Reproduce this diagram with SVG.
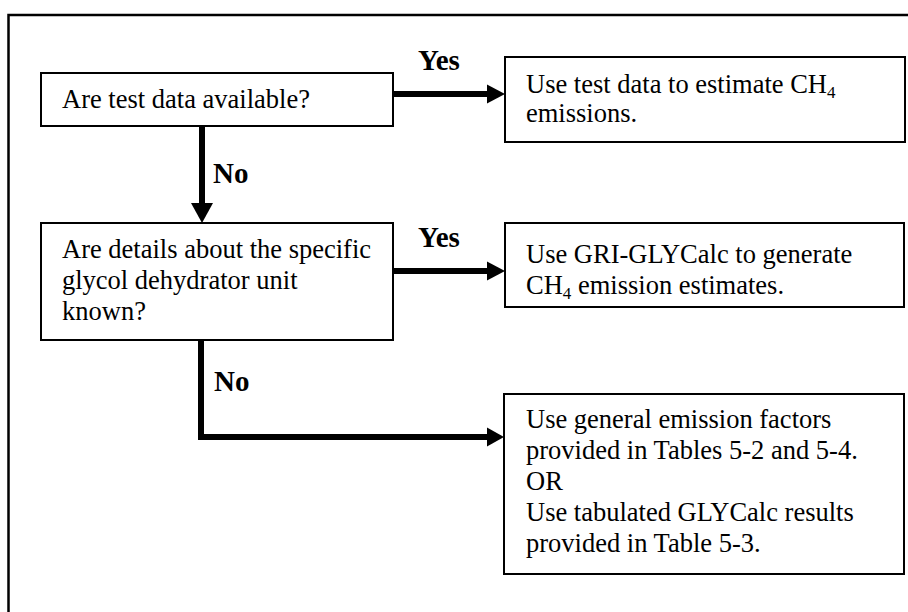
<svg xmlns="http://www.w3.org/2000/svg" width="908" height="612" viewBox="0 0 908 612">
  <style>
    .box { fill: #ffffff; stroke: #000000; stroke-width: 2; }
    .txt { font-family: "Liberation Serif", "Times New Roman", serif; font-size: 26.5px; fill: #000000; }
    .lbl { font-family: "Liberation Serif", "Times New Roman", serif; font-size: 29px; font-weight: bold; fill: #000000; }
    .sub { font-size: 17px; }
    .wire { fill: none; stroke: #000000; stroke-width: 6; }
    .head { fill: #000000; }
  </style>
  <rect width="908" height="612" fill="#ffffff"/>
  <!-- outer frame, running off the right and bottom edges -->
  <path d="M8.5,620 V15 H920" fill="none" stroke="#000000" stroke-width="2.5"/>

  <g id="connectors">
    <path class="wire" d="M393,94 H488"/>
    <polygon class="head" points="487,84.5 505,94 487,103.5"/>
    <path class="wire" d="M202,126 V204"/>
    <polygon class="head" points="191,203 213,203 202,223"/>
    <path class="wire" d="M393,271 H488"/>
    <polygon class="head" points="487,261.5 505,271 487,280.5"/>
    <path class="wire" d="M201,340 V437 H488"/>
    <polygon class="head" points="487,427.5 504,437 487,446.5"/>
    <text class="lbl" x="418" y="70">Yes</text>
    <text class="lbl" x="213" y="183">No</text>
    <text class="lbl" x="418" y="247">Yes</text>
    <text class="lbl" x="214" y="391">No</text>
  </g>

  <g id="q-test-data">
    <rect class="box" x="41" y="73" width="352" height="53"/>
    <text class="txt" x="62" y="108">Are test data available?</text>
  </g>

  <g id="use-test-data">
    <rect class="box" x="505" y="57" width="400" height="85"/>
    <text class="txt" x="526" y="93">Use test data to estimate CH<tspan class="sub" dy="5">4</tspan></text>
    <text class="txt" x="526" y="122">emissions.</text>
  </g>

  <g id="q-unit-details">
    <rect class="box" x="41" y="223" width="352" height="117"/>
    <text class="txt" x="62" y="258">Are details about the specific</text>
    <text class="txt" x="62" y="289">glycol dehydrator unit</text>
    <text class="txt" x="62" y="320">known?</text>
  </g>

  <g id="use-glycalc">
    <rect class="box" x="505" y="223" width="399" height="84"/>
    <text class="txt" x="526" y="263">Use GRI-GLYCalc to generate</text>
    <text class="txt" x="526" y="294">CH<tspan class="sub" dy="5">4</tspan><tspan dy="-5"> emission estimates.</tspan></text>
  </g>

  <g id="use-general-factors">
    <rect class="box" x="504" y="394" width="400" height="180"/>
    <text class="txt" x="526" y="428">Use general emission factors</text>
    <text class="txt" x="526" y="459">provided in Tables 5-2 and 5-4.</text>
    <text class="txt" x="526" y="490">OR</text>
    <text class="txt" x="526" y="521">Use tabulated GLYCalc results</text>
    <text class="txt" x="526" y="552">provided in Table 5-3.</text>
  </g>
</svg>
